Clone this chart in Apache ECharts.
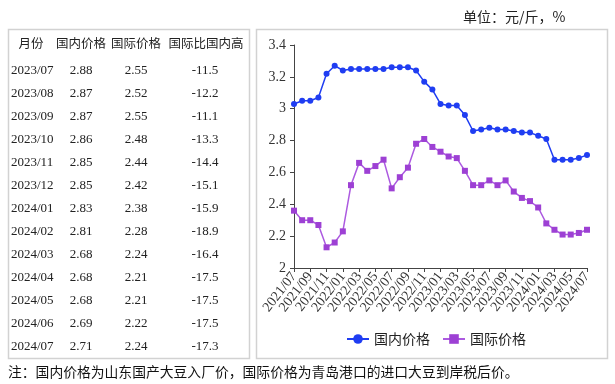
<!DOCTYPE html>
<html>
<head>
<meta charset="utf-8">
<script src="https://cdn.jsdelivr.net/npm/echarts@6/dist/echarts.min.js"></script>
<style>
html,body{margin:0;padding:0;background:#fff;}
#c{width:615px;height:384px;}
</style>
</head>
<body>
<div id="c"></div>
<script>
// ---- chart data ----
const months = ['2021/07','2021/08','2021/09','2021/10','2021/11','2021/12',
  '2022/01','2022/02','2022/03','2022/04','2022/05','2022/06','2022/07','2022/08','2022/09','2022/10','2022/11','2022/12',
  '2023/01','2023/02','2023/03','2023/04','2023/05','2023/06','2023/07','2023/08','2023/09','2023/10','2023/11','2023/12',
  '2024/01','2024/02','2024/03','2024/04','2024/05','2024/06','2024/07'];
const domestic = [3.03,3.05,3.05,3.07,3.22,3.27,3.24,3.25,3.25,3.25,3.25,3.25,3.26,3.26,3.26,3.24,3.17,3.12,
  3.03,3.02,3.02,2.96,2.86,2.87,2.88,2.87,2.87,2.86,2.85,2.85,2.83,2.81,2.68,2.68,2.68,2.69,2.71];
const international = [2.36,2.30,2.30,2.27,2.13,2.16,2.23,2.52,2.66,2.61,2.64,2.68,2.50,2.57,2.63,2.78,2.81,2.76,
  2.73,2.70,2.69,2.61,2.52,2.52,2.55,2.52,2.55,2.48,2.44,2.42,2.38,2.28,2.24,2.21,2.21,2.22,2.24];
const seriesNames = ['国内价格','国际价格'];

// ---- table data ----
const tableHeader = ['月份','国内价格','国际价格','国际比国内高'];
const tableMonths = ['2023/07','2023/08','2023/09','2023/10','2023/11','2023/12','2024/01','2024/02','2024/03','2024/04','2024/05','2024/06','2024/07'];
const tableDomestic = ['2.88','2.87','2.87','2.86','2.85','2.85','2.83','2.81','2.68','2.68','2.68','2.69','2.71'];
const tableInternational = ['2.55','2.52','2.55','2.48','2.44','2.42','2.38','2.28','2.24','2.21','2.21','2.22','2.24'];
const tableDiff = ['-11.5','-12.2','-11.1','-13.3','-14.4','-15.1','-15.9','-18.9','-16.4','-17.5','-17.5','-17.5','-17.3'];

const unitText = '单位：元/斤，%';
const noteText = '注：国内价格为山东国产大豆入厂价，国际价格为青岛港口的进口大豆到岸税后价。';

const CJK = '"Noto Sans CJK SC", "Noto Sans", sans-serif';
const SERIF = '"Liberation Serif", "DejaVu Serif", serif';
const BLUE = '#1f3df2';
const PURPLE = '#9d40d4';
const PURPLE_LINE = '#ac5ae0';

const graphics = [];
// boxes
graphics.push({type:'rect', shape:{x:8.5,y:29.5,width:241,height:329}, style:{fill:'none',stroke:'#d2d2d2',lineWidth:1.5}, silent:true});
graphics.push({type:'rect', shape:{x:256.5,y:29.5,width:351,height:329}, style:{fill:'none',stroke:'#d2d2d2',lineWidth:1.5}, silent:true});
// header
const headerX = [31, 81, 136, 206];
tableHeader.forEach((h,i)=>{
  graphics.push({type:'text', x:headerX[i], y:43, style:{text:h, font:'12.5px '+CJK, fill:'#222', align:'center', verticalAlign:'middle'}});
});
// rows
tableMonths.forEach((m,i)=>{
  const y = 70.5 + 23*i;
  graphics.push({type:'text', x:11, y:y, style:{text:m, font:'13px '+SERIF, fill:'#222', align:'left', verticalAlign:'middle'}});
  graphics.push({type:'text', x:81, y:y, style:{text:tableDomestic[i], font:'13px '+SERIF, fill:'#222', align:'center', verticalAlign:'middle'}});
  graphics.push({type:'text', x:136, y:y, style:{text:tableInternational[i], font:'13px '+SERIF, fill:'#222', align:'center', verticalAlign:'middle'}});
  graphics.push({type:'text', x:205, y:y, style:{text:tableDiff[i], font:'13px '+SERIF, fill:'#222', align:'center', verticalAlign:'middle'}});
});
// unit & note
graphics.push({type:'text', x:463, y:17, style:{text:unitText, font:'14px '+CJK, fill:'#222', align:'left', verticalAlign:'middle'}});
graphics.push({type:'text', x:8, y:372, style:{text:noteText, font:'13.8px '+CJK, fill:'#111', align:'left', verticalAlign:'middle'}});

const chart = echarts.init(document.getElementById('c'), null, {renderer:'canvas'});
chart.setOption({
  animation:false,
  backgroundColor:'#fff',
  grid:{left:294, right:28, top:45, bottom:116, containLabel:false, outerBoundsMode:'none'},
  xAxis:{
    type:'category', data:months, boundaryGap:false,
    axisLine:{lineStyle:{color:'#444', width:1}},
    axisTick:{show:true, interval:1, length:4, lineStyle:{color:'#444'}},
    axisLabel:{interval:0, rotate:52, margin:6, fontFamily:'Liberation Serif', fontSize:14, color:'#333',
      hideOverlap:false,
      formatter:(v,idx)=> idx % 2 === 0 ? v : ''}
  },
  yAxis:{
    type:'value', min:2, max:3.4, interval:0.2,
    axisLine:{show:true, lineStyle:{color:'#444', width:1}},
    axisTick:{show:true, length:4, lineStyle:{color:'#444'}},
    splitLine:{show:false},
    axisLabel:{fontFamily:'Liberation Serif', fontSize:14, color:'#333', margin:8,
      formatter:v=>String(Math.round(v*10)/10)}
  },
  legend:{
    left:341, top:327, itemWidth:22, itemHeight:12, itemGap:12,
    textStyle:{fontFamily:CJK, fontSize:14, color:'#222'},
    data:seriesNames
  },
  series:[
    {name:seriesNames[0], type:'line', data:domestic, symbol:'circle', symbolSize:6, showAllSymbol:true,
      lineStyle:{color:BLUE, width:1.5}, itemStyle:{color:BLUE}},
    {name:seriesNames[1], type:'line', data:international, symbol:'rect', symbolSize:6, showAllSymbol:true,
      lineStyle:{color:PURPLE_LINE, width:1.5}, itemStyle:{color:PURPLE}}
  ],
  graphic:graphics
});
</script>
</body>
</html>
